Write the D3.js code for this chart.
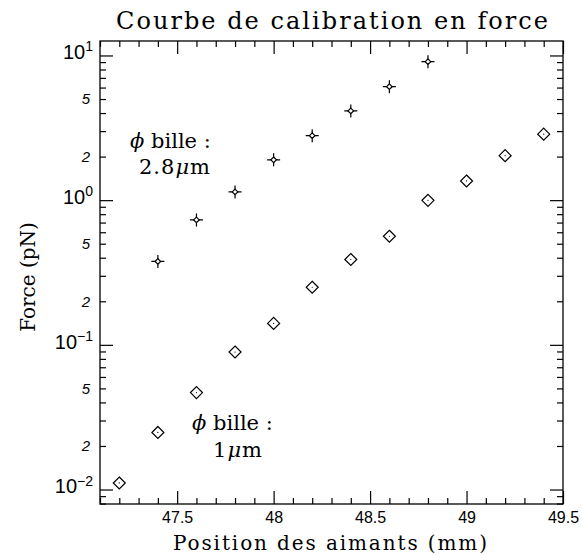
<!DOCTYPE html>
<html>
<head>
  <script src="https://d3js.org/d3.v7.min.js"></script>
  <style>
    body { margin: 0; background: #fff; }
    .axis path, .axis line { stroke: #000; stroke-width: 1.2; }
    .serif { font-family: "DejaVu Serif", serif; }
  </style>
</head>
<body>
<svg id="chart" width="582" height="555"></svg>
<script>
  // data
  const posStar = [47.4, 47.6, 47.8, 48.0, 48.2, 48.4, 48.6, 48.8];
  const forceStar = [0.377, 0.73, 1.14, 1.90, 2.79, 4.14, 6.09, 9.06];
  const posDiamond = [47.2, 47.4, 47.6, 47.8, 48.0, 48.2, 48.4, 48.6, 48.8, 49.0, 49.2, 49.4];
  const forceDiamond = [0.0111, 0.0248, 0.0468, 0.0892, 0.1407, 0.25, 0.389, 0.563, 0.997, 1.357, 2.03, 2.86];
  const xMajor = [47.5, 48, 48.5, 49, 49.5];
  const yMajor = [-2, -1, 0, 1];       // exposants des puissances de 10
  const yMinorLabels = [2, 5];

  const svg = d3.select("#chart");
  const pLeft = 100, pRight = 563, pTop = 41, pBottom = 504;

  const x = d3.scaleLinear().domain([47.1, 49.5]).range([pLeft, pRight]);
  const y = d3.scaleLog().domain([Math.pow(10, -2.1), Math.pow(10, 1.1)]).range([pBottom, pTop]);

  // ticks mineurs
  const xMinor = d3.range(47.1, 49.51, 0.1).map(d => +d.toFixed(1)).filter(d => !xMajor.includes(d));
  const yMinor = [];
  for (let e = -3; e <= 1; e++) {
    for (let k = 2; k <= 9; k++) {
      const v = k * Math.pow(10, e);
      if (v >= y.domain()[0] && v <= y.domain()[1]) yMinor.push(v);
    }
  }
  const yMajorVals = yMajor.map(e => Math.pow(10, e));

  const g = svg.append("g");

  // cadre
  g.append("rect")
    .attr("x", pLeft).attr("y", pTop)
    .attr("width", pRight - pLeft).attr("height", pBottom - pTop)
    .attr("fill", "none").attr("stroke", "#000").attr("stroke-width", 1.3);

  function tickAxis(axisGen, tr) {
    const a = g.append("g").attr("class", "axis").attr("transform", tr).call(axisGen);
    a.select(".domain").remove();
    return a;
  }

  // axe x bas
  const xb = tickAxis(d3.axisBottom(x).tickValues(xMajor).tickSize(-13).tickPadding(8)
    .tickFormat(d => String(d)), `translate(0,${pBottom})`);
  xb.selectAll("text").attr("font-family", "Liberation Sans, sans-serif").attr("font-size", 16).attr("fill", "#000");
  tickAxis(d3.axisBottom(x).tickValues(xMinor).tickSize(-6).tickFormat(""), `translate(0,${pBottom})`);
  // axe x haut
  tickAxis(d3.axisTop(x).tickValues(xMajor).tickSize(-13).tickFormat(""), `translate(0,${pTop})`);
  tickAxis(d3.axisTop(x).tickValues(xMinor).tickSize(-6).tickFormat(""), `translate(0,${pTop})`);

  // axe y gauche
  const yl = tickAxis(d3.axisLeft(y).tickValues(yMajorVals).tickSize(-13).tickPadding(6).tickFormat(""),
    `translate(${pLeft},0)`);
  yl.selectAll(".tick").append("text")
    .attr("x", -7).attr("dy", "0.32em")
    .attr("text-anchor", "end")
    .attr("font-family", "Liberation Sans, sans-serif")
    .attr("fill", "#000")
    .each(function(d) {
      const t = d3.select(this);
      const e = Math.round(Math.log10(d));
      t.append("tspan").attr("font-size", 20).text("10");
      t.append("tspan").attr("font-size", 14).attr("dy", "-0.55em")
        .text(e < 0 ? "\u2212" + Math.abs(e) : String(e));
    });
  const ylm = tickAxis(d3.axisLeft(y).tickValues(yMinor).tickSize(-6).tickPadding(10)
    .tickFormat(d => {
      const k = Math.round(d / Math.pow(10, Math.floor(Math.log10(d) + 1e-9)));
      return yMinorLabels.includes(k) ? String(k) : "";
    }), `translate(${pLeft},0)`);
  ylm.selectAll("text").attr("font-family", "Liberation Sans, sans-serif").attr("font-style", "italic")
    .attr("font-size", 15).attr("fill", "#000");
  // axe y droit
  tickAxis(d3.axisRight(y).tickValues(yMajorVals).tickSize(-13).tickFormat(""), `translate(${pRight},0)`);
  tickAxis(d3.axisRight(y).tickValues(yMinor).tickSize(-6).tickFormat(""), `translate(${pRight},0)`);

  // marqueurs étoile (bille 2.8 µm)
  const stars = g.selectAll(".star").data(posStar.map((p, i) => [p, forceStar[i]]))
    .enter().append("g").attr("class", "star")
    .attr("transform", d => `translate(${x(d[0])},${y(d[1])})`);
  stars.append("path")
    .attr("d", "M-6.5,0H-2.5M2.5,0H6.5M0,-6.5V-2.5M0,2.5V6.5")
    .attr("stroke", "#000").attr("stroke-width", 1.2);
  stars.append("path")
    .attr("d", "M0,-2.8L2.8,0L0,2.8L-2.8,0Z")
    .attr("fill", "none").attr("stroke", "#000").attr("stroke-width", 1.2);

  // marqueurs losange (bille 1 µm)
  const diamonds = g.selectAll(".diamond").data(posDiamond.map((p, i) => [p, forceDiamond[i]]))
    .enter().append("g").attr("class", "diamond")
    .attr("transform", d => `translate(${x(d[0])},${y(d[1])})`);
  diamonds.append("path")
    .attr("d", "M0,-6L6,0L0,6L-6,0Z")
    .attr("fill", "none").attr("stroke", "#000").attr("stroke-width", 1.2);
  diamonds.append("circle").attr("r", 0.6).attr("fill", "#000");

  // textes
  svg.append("text").attr("class", "serif")
    .attr("x", 116).attr("y", 29)
    .attr("textLength", 432).attr("lengthAdjust", "spacing")
    .attr("font-size", 24).text("Courbe de calibration en force");

  svg.append("text").attr("class", "serif")
    .attr("x", 173).attr("y", 550)
    .attr("textLength", 314).attr("lengthAdjust", "spacing")
    .attr("font-size", 20).text("Position des aimants (mm)");

  svg.append("text").attr("class", "serif")
    .attr("transform", "translate(35,277) rotate(-90)").attr("text-anchor", "middle")
    .attr("font-size", 20).text("Force (pN)");

  function annot(x0, y0, x1, y1, size) {
    const t1 = svg.append("text").attr("class", "serif").attr("x", x0).attr("y", y0).attr("font-size", 21);
    t1.append("tspan").attr("font-style", "italic").text("\u03d5");
    t1.append("tspan").text(" bille :");
    const t2 = svg.append("text").attr("class", "serif").attr("x", x1).attr("y", y1)
      .attr("font-size", 21).attr("letter-spacing", 1);
    t2.append("tspan").text(size);
    t2.append("tspan").attr("font-style", "italic").text("\u03bc");
    t2.append("tspan").text("m");
  }
  annot(130, 148, 139, 174, "2.8");
  annot(192, 430, 213, 457, "1");
</script>
</body>
</html>
